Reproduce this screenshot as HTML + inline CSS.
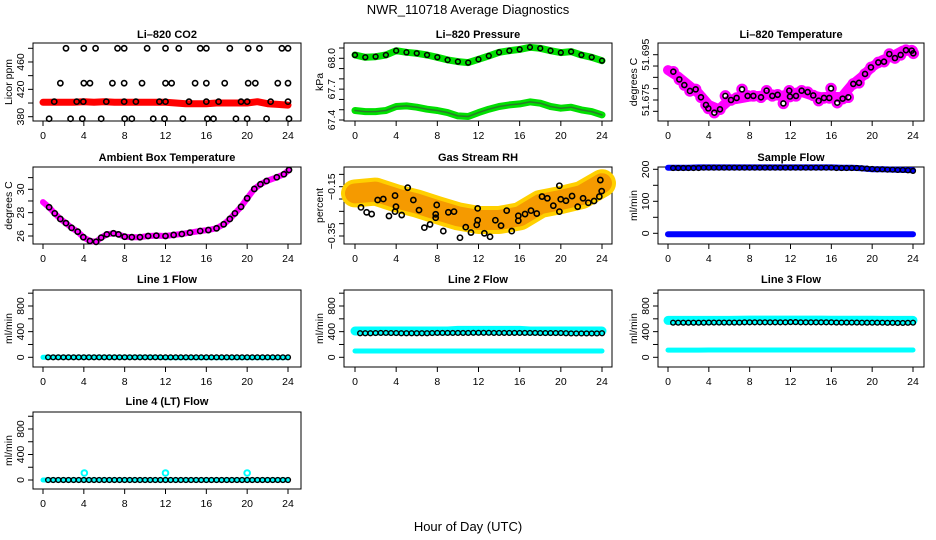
<!DOCTYPE html>
<html><head><meta charset="utf-8"><style>
html,body{margin:0;padding:0;background:#fff;}
svg{display:block;font-family:"Liberation Sans",Arial,sans-serif;}
</style></head><body>
<svg id="c" width="936" height="540" viewBox="0 0 936 540">
<text x="468" y="14" text-anchor="middle" font-size="13">NWR_110718  Average Diagnostics</text>
<text x="468" y="531" text-anchor="middle" font-size="13">Hour of Day (UTC)</text>
</svg>
<script>
// ---- data ----
const hours48=[0.5,1,1.5,2,2.5,3,3.5,4,4.5,5,5.5,6,6.5,7,7.5,8,8.5,9,9.5,10,10.5,11,11.5,12,12.5,13,13.5,14,14.5,15,15.5,16,16.5,17,17.5,18,18.5,19,19.5,20,20.5,21,21.5,22,22.5,23,23.5,24];
const hours25=[0,1,2,3,4,5,6,7,8,9,10,11,12,13,14,15,16,17,18,19,20,21,22,23,24];
// CO2
const co2Band=[401,401,401,401,402,401,402,401,401,401,401,401,401,400,399,399,399,400,400,400,400,402,399,398,397];
const co2Hours=[2.25,4,5.15,7.3,7.95,10.2,12,13.3,15.4,16,18.3,20.1,21.2,23.4,24,1.7,4,4.6,6.8,7.95,9.7,12,12.6,14.9,16,17.8,20.1,20.8,23,24,1.1,3.3,3.95,6.2,7.95,9.1,11.4,12,14.3,16,17.2,19.4,20,22.3,24,0.6,2.7,3.85,5.7,8,8.7,10.8,11.9,13.7,16.1,16.7,18.9,20,21.9,24.1];
const co2Vals=[480,480,480,480,480,480,480,480,480,480,480,480,480,480,480,429,429,429,429,429,429,429,429,429,429,429,429,429,429,429,402,402,402,402,402,402,402,402,402,402,402,402,402,402,402,377,377,377,377,377,377,377,377,377,377,377,377,377,377,377];
// Pressure
const presUpper=[68.032,68.01,68.016,68.032,68.074,68.058,68.049,68.032,68.01,67.984,67.968,67.958,67.99,68.023,68.058,68.074,68.087,68.107,68.097,68.074,68.055,68.065,68.032,68.01,67.977];
const presLower=[67.492,67.482,67.482,67.492,67.531,67.537,67.524,67.505,67.492,67.472,67.44,67.434,67.472,67.505,67.531,67.547,67.557,67.576,67.563,67.531,67.515,67.524,67.498,67.482,67.45];
// Li-820 temperature
const ltBand=[51.6882,51.6853,51.6816,51.6779,51.6728,51.6709,51.675,51.6757,51.6765,51.6768,51.6776,51.6768,51.6776,51.6787,51.6772,51.6762,51.6765,51.6762,51.6816,51.6853,51.6897,51.6926,51.6944,51.6968,51.6968];
const ltHours=[0.52,1.11,1.6,2.15,2.71,3.23,3.72,3.95,4.54,5.09,5.62,6.17,6.72,7.25,7.8,8.36,9.11,9.66,10.22,10.74,11.3,11.88,11.95,12.54,13.09,13.68,14.23,14.76,15.28,15.8,15.97,16.58,17.11,17.66,18.15,18.71,19.3,19.88,20.6,21.16,21.68,22.23,22.79,23.31,23.87,24.03];
const ltVals=[51.6875,51.6841,51.6816,51.679,51.6797,51.6762,51.6728,51.6713,51.6694,51.6709,51.6768,51.675,51.6759,51.6797,51.6768,51.6768,51.6762,51.6791,51.6768,51.6773,51.6735,51.6791,51.6765,51.6768,51.6791,51.6785,51.677,51.6747,51.6759,51.6759,51.6801,51.6738,51.6756,51.6762,51.6821,51.6826,51.6865,51.6894,51.6916,51.6919,51.6953,51.6935,51.6949,51.697,51.6968,51.6956];
// Ambient box temperature
const ambHours=[0,0.6,1.15,1.7,2.25,2.8,3.4,3.95,4.6,5.2,5.7,6.25,6.9,7.4,8,8.7,9.5,10.3,11.1,12,12.8,13.6,14.4,15.4,16.2,17,17.7,18.3,18.8,19.4,20,20.7,21.3,21.9,22.9,23.6,24.1];
const ambVals=[28.9,28.46,27.94,27.46,27.1,26.7,26.37,25.9,25.57,25.5,25.86,26.14,26.23,26.14,25.94,25.9,25.9,26,26.03,26,26.09,26.17,26.29,26.43,26.51,26.66,27,27.46,27.94,28.5,29.23,30.03,30.43,30.71,31.03,31.29,31.66];
// Gas stream RH
const rhBandHours=[0,2,4,6,8,10,12,14,16,18,20,22,24];
const rhBand=[-0.177,-0.17,-0.197,-0.218,-0.245,-0.27,-0.285,-0.285,-0.27,-0.22,-0.204,-0.184,-0.136];
const rhHours=[0.58,1.13,1.62,2.2,2.75,3.3,3.89,3.98,3.89,4.54,5.12,5.67,6.22,6.74,7.29,7.94,7.84,7.84,8.58,9.07,9.62,10.2,10.76,11.27,11.83,11.92,11.92,12.57,13.12,13.64,14.19,14.74,15.23,15.87,15.87,16.52,17.1,17.66,18.17,18.69,19.27,19.86,19.86,19.99,20.5,21.09,21.64,22.16,22.67,23.23,23.74,23.84,23.97];
const rhVals=[-0.234,-0.254,-0.261,-0.204,-0.2,-0.269,-0.186,-0.231,-0.251,-0.265,-0.154,-0.204,-0.245,-0.316,-0.303,-0.224,-0.262,-0.276,-0.33,-0.254,-0.251,-0.357,-0.314,-0.336,-0.305,-0.238,-0.286,-0.339,-0.353,-0.286,-0.308,-0.247,-0.33,-0.268,-0.288,-0.261,-0.247,-0.259,-0.19,-0.197,-0.227,-0.251,-0.146,-0.201,-0.207,-0.188,-0.231,-0.197,-0.215,-0.208,-0.19,-0.123,-0.168];
// Sample flow
const sfUpper=[205,205,205,206,206,206,206,206,206,206,206,206,206,206,206,206,206,205,205,203,200,200,199,198,197];
const sfLower=[-3,-3,-3,-3,-3,-3,-3,-3,-3,-3,-3,-3,-3,-3,-3,-3,-3,-3,-3,-3,-3,-3,-3,-3,-3];
const sfBlack=[204,204,204,204,204,204,205,205,205,205,205,205,205,205,205,205,205,205,205,205,205,205,205,205,205,205,205,205,205,205,205,205,204,204,204,204,204,203,202,201,200,200,199,199,198,198,197,195];
// Line flows
const l1Cyan=[0,0,0,0,0,0,0,0,0,0,0,0,-5,-5,-5,-5,-5,-5,-5,-5,-5,-5,-5,-5,-5];
const l2CyanUp=[410,410,410,410,410,410,410,410,410,410,420,420,420,420,420,420,420,410,410,410,410,410,410,410,410];
const l2CyanLow=[98,98,98,98,98,98,98,98,98,98,98,98,98,98,98,98,98,98,98,98,98,98,98,98,98];
const l2Black=[375,375,375,378,380,380,378,378,375,375,375,375,375,375,378,380,380,380,380,380,380,380,382,382,382,382,380,380,380,380,380,380,380,380,380,378,378,378,378,378,375,372,372,372,372,372,372,375];
const l3CyanUp=[575,575,575,575,575,575,575,578,580,580,580,580,580,580,580,580,578,578,578,578,578,575,575,575,575];
const l3CyanLow=[112,112,112,112,114,114,114,114,114,114,114,114,114,114,114,114,114,114,114,114,114,114,114,114,114];
const l3Black=[540,540,540,540,540,540,540,542,542,542,542,542,542,542,545,545,545,545,545,545,545,545,545,548,548,545,545,545,545,545,545,545,542,542,542,542,542,540,540,540,540,540,538,538,536,536,538,540];
const l4Cyan=[0,0,0,0,0,0,0,0,0,0,0,0,0,0,0,0,0,0,0,0,0,0,0,0,0];
const l4SpikeHours=[4.05,12,20];
const l4SpikeVals=[110,110,110];
const zeros48=[0,0,0,0,0,0,0,0,0,0,0,0,0,0,0,0,0,0,0,0,0,0,0,0,0,0,0,0,0,0,0,0,0,0,0,0,0,0,0,0,0,0,0,0,0,0,0,0];

// ---- layout ----
const NS="http://www.w3.org/2000/svg";
const svg=document.getElementById('c');
const COLS=[{l:33,r:301,x0:43,x24:288},{l:344,r:612,x0:355,x24:602},{l:658,r:924,x0:668,x24:913}];
const ROWS=[{t:43,b:121,tt:38},{t:167,b:244,tt:161},{t:290,b:367,tt:283},{t:412,b:489,tt:405}];
function el(tag,attrs,parent){const e=document.createElementNS(NS,tag);for(const k in attrs)e.setAttribute(k,attrs[k]);(parent||svg).appendChild(e);return e;}

function panel(ci,ri,name,title,ylab,v1,p1,v2,p2,ticks,labels,labelText){
  const C=COLS[ci],R=ROWS[ri];
  const g=el('g',{});
  
  
  const xs=h=>C.x0+(C.x24-C.x0)*h/24;
  const ys=v=>p1+(v-v1)*(p2-p1)/(v2-v1);
  const t=el('text',{x:(C.l+C.r)/2,y:R.tt,'text-anchor':'middle','font-size':'11','font-weight':'bold'},g);
  t.textContent=title;
  
  
  const box=el('rect',{x:C.l,y:R.t,width:C.r-C.l,height:R.b-R.t,fill:'none',stroke:'#000','stroke-width':1},g);
  
  
  const xa=el('g',{},g);
  
  
  el('line',{x1:xs(0),x2:xs(24),y1:R.b,y2:R.b,stroke:'#000'},xa);
  for(let h=0;h<=24;h+=4){
    el('line',{x1:xs(h),x2:xs(h),y1:R.b,y2:R.b+5,stroke:'#000'},xa);
    const tl=el('text',{x:xs(h),y:R.b+18,'text-anchor':'middle','font-size':'10.5'},xa);
    tl.textContent=h;
  }
  const ya=el('g',{},g);
  
  
  el('line',{x1:C.l,x2:C.l,y1:ys(ticks[0]),y2:ys(ticks[ticks.length-1]),stroke:'#000'},ya);
  ticks.forEach(v=>el('line',{x1:C.l-5,x2:C.l,y1:ys(v),y2:ys(v),stroke:'#000'},ya));
  labels.forEach((v,i)=>{
    const y=ys(v),x=C.l-9;
    const tl=el('text',{x:x,y:y,'text-anchor':'middle','font-size':'10.5',transform:`rotate(-90 ${x} ${y})`},ya);
    tl.textContent=labelText?labelText[i]:String(v);
  });
  const yl=el('text',{x:C.l-21,y:(R.t+R.b)/2,'text-anchor':'middle','font-size':'10.5',transform:`rotate(-90 ${C.l-21} ${(R.t+R.b)/2})`},g);
  yl.textContent=ylab;
  
  
  return {g,xs,ys};
}
function band(P,name,hs,vs,color,w,op){
  const pts=hs.map((h,i)=>P.xs(h).toFixed(1)+','+P.ys(vs[i]).toFixed(1)).join(' ');
  const pl=el('polyline',{points:pts,fill:'none',stroke:color,'stroke-width':w,'stroke-linecap':'round','stroke-linejoin':'round','stroke-opacity':op||1},P.g);
  
  
}
function circles(P,name,hs,vs,color,r,sw){
  const g=el('g',{},P.g);
  
  
  hs.forEach((h,i)=>el('circle',{cx:P.xs(h),cy:P.ys(vs[i]),r:r,fill:'none',stroke:color,'stroke-width':sw},g));
}

// Row 1
let P=panel(0,0,'co2','Li\u2013820 CO2','Licor ppm',380,116.7,480,48.3,[380,400,420,440,460,480],[380,420,460]);
band(P,'co2-red-band',hours25,co2Band,'#ff0000',7);
circles(P,'co2-black-points',co2Hours,co2Vals,'#000',2.6,1.6);

P=panel(1,0,'pressure','Li\u2013820 Pressure','kPa',68.0,58.3,67.4,120,[67.4,67.5,67.6,67.7,67.8,67.9,68.0,68.1],[67.4,67.7,68.0],['67.4','67.7','68.0']);
band(P,'pressure-upper-band',hours25,presUpper,'#00e000',7);
band(P,'pressure-lower-band',hours25,presLower,'#00e000',7);
band(P,'pressure-lower-dots',hours25,presLower,'#2a7a2a',1.5);
circles(P,'pressure-black-points',hours25,presUpper,'#000',2.4,1.5);

P=panel(2,0,'li820-temperature','Li\u2013820 Temperature','degrees C',51.695,54.7,51.675,100,[51.67,51.675,51.68,51.685,51.69,51.695],[51.675,51.695],['51.675','51.695']);
band(P,'li820-temp-band',hours25,ltBand,'#ff00ff',10);
circles(P,'li820-temp-magenta-points',ltHours,ltVals,'#ff00ff',4.5,2.5);
circles(P,'li820-temp-black-points',ltHours,ltVals,'#000',2.5,1.6);

// Row 2
P=panel(0,1,'ambient-temperature','Ambient Box Temperature','degrees C',26,236,30,189.3,[26,27,28,29,30,31],[26,28,30]);
band(P,'ambient-temp-band',ambHours,ambVals,'#ff00ff',6);
circles(P,'ambient-temp-black-points',ambHours.slice(1),ambVals.slice(1),'#000',2.6,1.6);

P=panel(1,1,'gas-stream-rh','Gas Stream RH','percent',-0.35,236,-0.15,186.7,[-0.35,-0.3,-0.25,-0.2,-0.15,-0.1],[-0.35,-0.15],['\u22120.35','\u22120.15']);
band(P,'rh-yellow-band',rhBandHours,rhBand,'#ffd000',28);
band(P,'rh-orange-core',rhBandHours,rhBand,'#f59a00',20);
circles(P,'rh-black-points',rhHours,rhVals,'#000',2.6,1.6);

P=panel(2,1,'sample-flow','Sample Flow','ml/min',0,233.3,200,169.3,[0,50,100,150,200],[0,100,200]);
band(P,'sample-flow-upper-band',hours25,sfUpper,'#0000ff',6);
band(P,'sample-flow-lower-band',hours25,sfLower,'#0000ff',6);
circles(P,'sample-flow-black-points',hours48,sfBlack,'#000',2.4,1.4);

// Row 3
P=panel(0,2,'line1-flow','Line 1 Flow','ml/min',0,357.3,800,306,[0,200,400,600,800,1000],[0,400,800]);
band(P,'line1-cyan-band',hours25,l1Cyan,'#00ffff',5);
circles(P,'line1-black-points',hours48,zeros48,'#000',2.4,1.4);

P=panel(1,2,'line2-flow','Line 2 Flow','ml/min',0,357.3,800,306,[0,200,400,600,800,1000],[0,400,800]);
band(P,'line2-cyan-upper',hours25,l2CyanUp,'#00ffff',9);
band(P,'line2-cyan-lower',hours25,l2CyanLow,'#00ffff',5);
circles(P,'line2-black-points',hours48,l2Black,'#000',2.4,1.4);

P=panel(2,2,'line3-flow','Line 3 Flow','ml/min',0,357.3,800,306,[0,200,400,600,800,1000],[0,400,800]);
band(P,'line3-cyan-upper',hours25,l3CyanUp,'#00ffff',9);
band(P,'line3-cyan-lower',hours25,l3CyanLow,'#00ffff',5);
circles(P,'line3-black-points',hours48,l3Black,'#000',2.4,1.4);

// Row 4
P=panel(0,3,'line4-flow','Line 4 (LT) Flow','ml/min',0,480,800,429,[0,200,400,600,800,1000],[0,400,800]);
band(P,'line4-cyan-band',hours25,l4Cyan,'#00ffff',5);
circles(P,'line4-cyan-spikes',l4SpikeHours,l4SpikeVals,'#00ffff',2.8,2);
circles(P,'line4-black-points',hours48,zeros48,'#000',2.4,1.4);
</script>
</body></html>
